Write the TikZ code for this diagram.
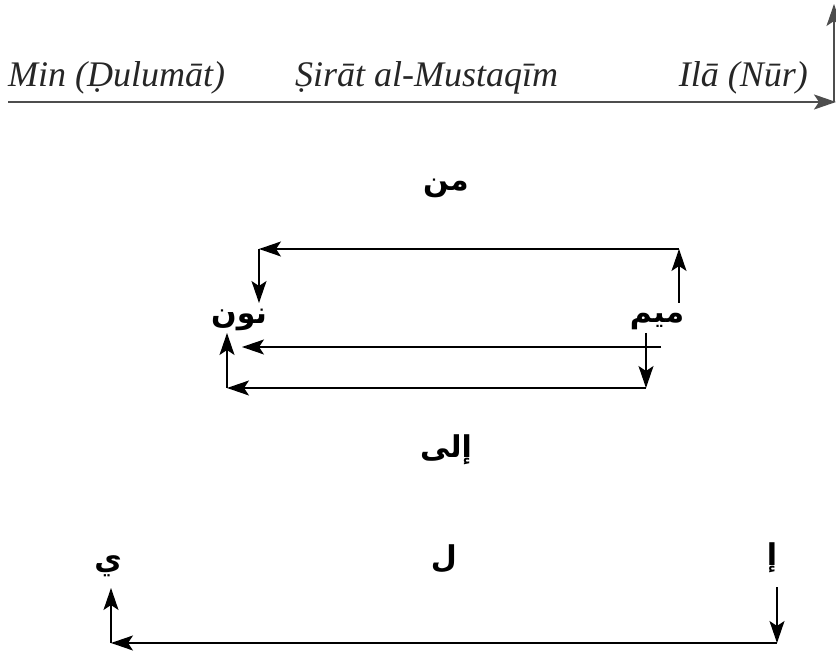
\documentclass[tikz,border=0pt]{standalone}
\usepackage{fontspec}
\setmainfont{Liberation Serif}
\newfontfamily\arabicfont[Script=Arabic]{DejaVu Sans}
\TeXXeTstate=1
\usetikzlibrary{arrows.meta,positioning}
\definecolor{GrisLinea}{HTML}{4D4D4D}
\definecolor{GrisTexto}{HTML}{262626}
\tikzset{
  etiqueta/.style = {font=\fontsize{36}{40}\selectfont\itshape, text=GrisTexto,
                     inner sep=0pt},
  letra/.style    = {font=\fontsize{30}{34}\selectfont\arabicfont\bfseries,
                     inner sep=0pt},
  flecha/.style   = {line width=1.4pt, -{Stealth[length=22pt, width=15pt, inset=5pt]}},
  eje/.style      = {flecha, line width=2.2pt, draw=GrisLinea},
}
\begin{document}
\begin{tikzpicture}[x=1pt,y=-1pt]
  \useasboundingbox (0,0) rectangle (836,652);
  % eje de arriba
  \node[etiqueta, anchor=base west] (zulumat) at (8,87) {Min (Ḍulumāt)};
  \node[etiqueta, anchor=base west] (sirat) at (295,87) {Ṣirāt al-Mustaqīm};
  \node[etiqueta, anchor=base east] (nur) at (808,87) {Ilā (Nūr)};
  \coordinate (ejeini) at (8,102);
  \coordinate (ejefin) at (836,102);
  \coordinate (ejepie) at (834,102);
  \coordinate (ejecima) at (834,4);
  \draw[eje] (ejeini) -- (ejefin);
  \draw[flecha, draw=GrisLinea] (ejepie) -- (ejecima);

  % min: mim -> nun
  \node[letra] (min) at (446,188) {\beginR من\endR};
  \node[letra] (nun) at (239,320) {\beginR نون\endR};
  \node[letra] (mim) at (657,322) {\beginR ميم\endR};
  \coordinate (m1) at (679,303);
  \coordinate (m2) at (679,249);
  \coordinate (m3) at (259,249);
  \coordinate (m4) at (259,303);
  \draw[flecha] (m1) -- (m2);
  \draw[flecha] (m2) -- (m3);
  \draw[flecha] (m3) -- (m4);
  \coordinate (c1) at (661,347);
  \coordinate (c2) at (242,347);
  \draw[flecha] (c1) -- (c2);
  \coordinate (b1) at (646,333);
  \coordinate (b2) at (646,388);
  \coordinate (b3) at (227,388);
  \coordinate (b4) at (227,333);
  \draw[flecha] (b1) -- (b2);
  \draw[flecha] (b2) -- (b3);
  \draw[flecha] (b3) -- (b4);

  % ila: alif -> lam -> ya
  \node[letra] (ila) at (446,450) {\beginR إلى\endR};
  \node[letra] (alif) at (772,558) {\beginR إ\endR};
  \node[letra] (lam) at (444,559) {\beginR ل\endR};
  \node[letra] (ya) at (108,566) {\beginR ي\endR};
  \coordinate (i1) at (777,587);
  \coordinate (i2) at (777,643);
  \coordinate (i3) at (111,643);
  \coordinate (i4) at (111,588);
  \draw[flecha] (i1) -- (i2);
  \draw[flecha] (i2) -- (i3);
  \draw[flecha] (i3) -- (i4);
\end{tikzpicture}
\end{document}
